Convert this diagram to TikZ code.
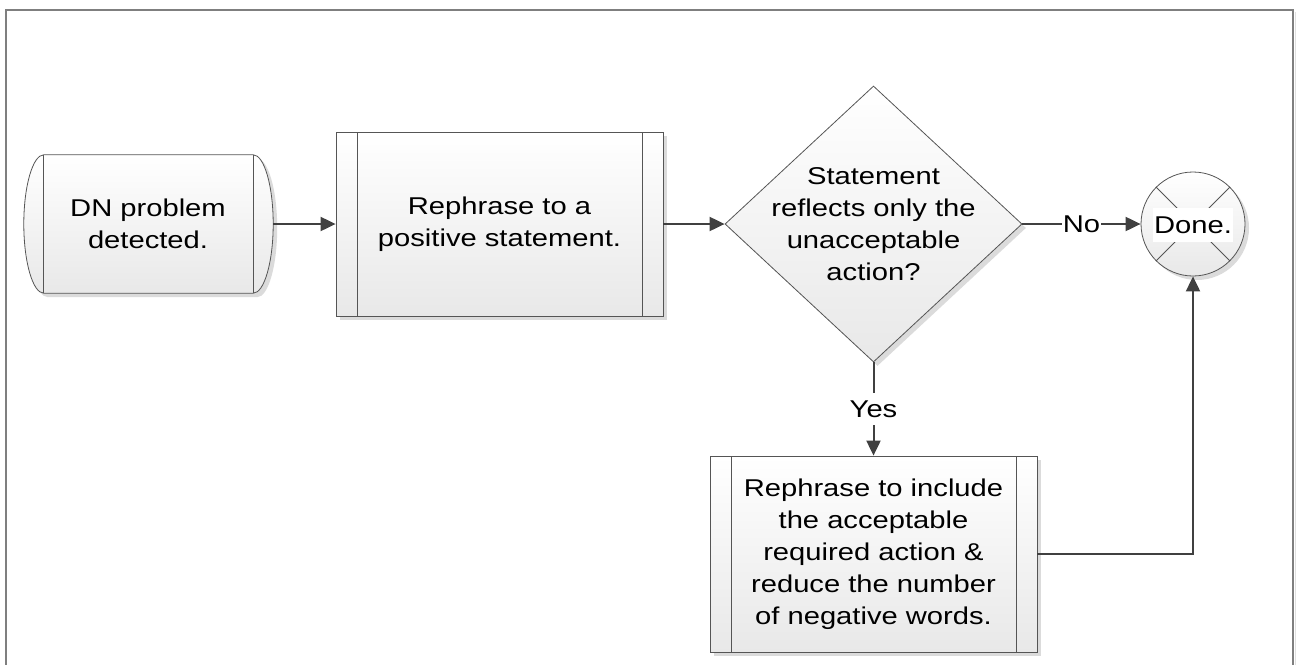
\documentclass[tikz,border=0pt]{standalone}
\usepackage{fontspec}
\setmainfont{Liberation Sans}[FakeStretch=1.2]
\usetikzlibrary{arrows.meta,shapes.geometric,shadows}
\definecolor{outl}{HTML}{555555}
\definecolor{connc}{HTML}{404040}
\definecolor{framec}{HTML}{7F7F7F}
\tikzset{
  txt/.style={font=\fontsize{24.3}{32}\selectfont, align=center, text=black},
  shapefill/.style={top color=white, bottom color=black!9, draw=outl, line width=0.8pt,
    drop shadow={shadow xshift=4pt, shadow yshift=-4pt, fill=black!14, opacity=1}},
  procbox/.style={shapefill, txt, rectangle, inner sep=0pt,
    path picture={
      \draw[outl, line width=0.8pt] ([xshift=21pt]path picture bounding box.north west) -- ([xshift=21pt]path picture bounding box.south west);
      \draw[outl, line width=0.8pt] ([xshift=-21pt]path picture bounding box.north east) -- ([xshift=-21pt]path picture bounding box.south east);
    }},
  conn/.style={draw=connc, line width=2pt, -{Triangle[length=15pt,width=14pt]}},
  lbl/.style={txt, fill=white, inner xsep=1pt, inner ysep=8pt},
}
\begin{document}
\begin{tikzpicture}[x=1pt, y=-1pt]
\useasboundingbox (0,0) rectangle (1297,664);
% frame
\draw[black!12, line width=1.5pt] (1295.5,12) -- (1295.5,670);
\draw[framec, line width=1.6pt] (6,10) rectangle (1293,672);

% terminal (start)
\node[txt, minimum width=209pt, minimum height=138pt, inner sep=0pt] (start) at (148.5,224) {};
\path[shapefill]
  (start.north west) -- (start.north east)
  .. controls +(11,0) and +(0,-38) .. ([xshift=20pt]start.east)
  .. controls +(0,38) and +(11,0) .. (start.south east)
  -- (start.south west)
  .. controls +(-11,0) and +(0,38) .. ([xshift=-20pt]start.west)
  .. controls +(0,-38) and +(-11,0) .. cycle;
\draw[outl, line width=0.8pt] (start.north west) -- (start.south west);
\draw[outl, line width=0.8pt] (start.north east) -- (start.south east);
\node[txt] (starttext) at (148,224) {DN problem\\detected.};
\coordinate (startR) at ([xshift=20pt]start.east);

% process 1
\node[procbox, minimum width=327pt, minimum height=184pt] (p1) at (499.5,224) {Rephrase to a\\positive statement.};

% decision
\node[shapefill, diamond, minimum width=297pt, minimum height=276pt, inner sep=0pt] (dec) at (873.5,224) {};
\node[txt] (dectext) at (873.5,224) {Statement\\reflects only the\\unacceptable\\action?};

% process 2
\node[procbox, minimum width=327pt, minimum height=196pt] (p2) at (873.5,554) {Rephrase to include\\the acceptable\\required action \&\\reduce the number\\of negative words.};

% done
\node[shapefill, circle, minimum size=104pt, inner sep=0pt] (done) at (1193,224) {};
\draw[outl, line width=0.8pt] (done.north west) -- (done.south east);
\draw[outl, line width=0.8pt] (done.north east) -- (done.south west);
\node[txt, fill=white, inner xsep=1.5pt, inner ysep=0pt, minimum height=34pt] (donetext) at (1193,225) {Done.};

% connectors
\draw[conn] (startR) -- (p1.west);
\draw[conn] (p1.east) -- (dec.west);
\draw[conn] (dec.east) -- node[lbl] (nolbl) {No} (done.west);
\draw[conn] (dec.south) -- node[lbl] (yeslbl) {Yes} (p2.north);
\draw[conn] (p2.east) -| (done.south);
\end{tikzpicture}
\end{document}
